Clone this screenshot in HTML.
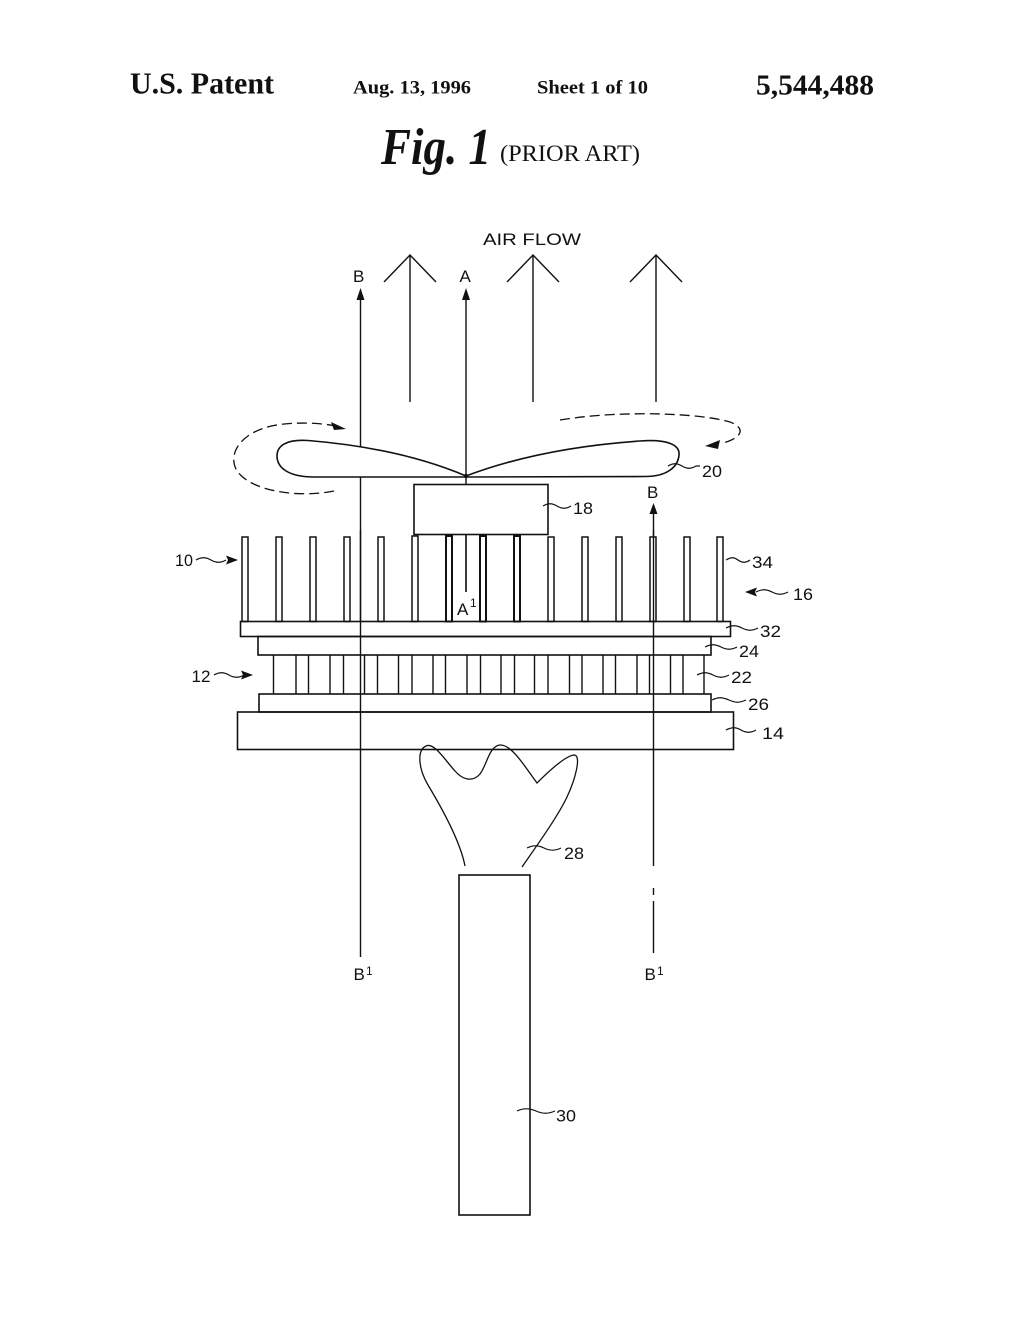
<!DOCTYPE html>
<html>
<head>
<meta charset="utf-8">
<style>
  html, body { margin: 0; padding: 0; background: #fff; }
  svg { display: block; }
  .lbl { font-family: "Liberation Sans", "DejaVu Sans", sans-serif; font-size: 17px; fill: #111; }
  .sup { font-family: "Liberation Sans", "DejaVu Sans", sans-serif; font-size: 12px; fill: #111; }
  .hdr { font-family: "Liberation Serif", "DejaVu Serif", serif; font-weight: bold; fill: #111; }
</style>
</head>
<body>
<svg width="1020" height="1320" viewBox="0 0 1020 1320" xmlns="http://www.w3.org/2000/svg">
  <rect width="1020" height="1320" fill="#fff"/>

  <!-- Header -->
  <text class="hdr" x="130" y="93.5" font-size="31" textLength="144" lengthAdjust="spacingAndGlyphs">U.S. Patent</text>
  <text class="hdr" x="353" y="93.5" font-size="19" textLength="118" lengthAdjust="spacingAndGlyphs">Aug. 13, 1996</text>
  <text class="hdr" x="537" y="93.5" font-size="19" textLength="111" lengthAdjust="spacingAndGlyphs">Sheet 1 of 10</text>
  <text class="hdr" x="756" y="94.5" font-size="29" textLength="118" lengthAdjust="spacingAndGlyphs">5,544,488</text>

  <text x="381" y="164" font-family="Liberation Serif, DejaVu Serif, serif" font-style="italic" font-weight="bold" font-size="52" fill="#111" textLength="110" lengthAdjust="spacingAndGlyphs">Fig. 1</text>
  <text x="500" y="161" font-family="Liberation Serif, DejaVu Serif, serif" font-size="23" fill="#111" textLength="140" lengthAdjust="spacingAndGlyphs">(PRIOR ART)</text>

  <!-- AIR FLOW -->
  <text class="lbl" x="483" y="245" font-size="17" textLength="98" lengthAdjust="spacingAndGlyphs">AIR FLOW</text>

  <g stroke="#111" stroke-width="1.4" fill="none">
    <!-- air flow arrows -->
    <line x1="410" y1="255" x2="410" y2="402"/>
    <polyline points="384,282 410,255 436,282"/>
    <line x1="533" y1="255" x2="533" y2="402"/>
    <polyline points="507,282 533,255 559,282"/>
    <line x1="656" y1="255" x2="656" y2="402"/>
    <polyline points="630,282 656,255 682,282"/>

    <!-- section lines -->
    <line x1="360.5" y1="296" x2="360.5" y2="957"/>
    <line x1="466" y1="296" x2="466" y2="592"/>
    <line x1="653.5" y1="510" x2="653.5" y2="866"/>
    <line x1="653.5" y1="888" x2="653.5" y2="895"/>
    <line x1="653.5" y1="901" x2="653.5" y2="953"/>
  </g>

  <!-- section arrowheads -->
  <g fill="#111">
    <polygon points="360.5,288 356.5,300 364.5,300"/>
    <polygon points="466,288 462,300 470,300"/>
    <polygon points="653.5,503 649.5,514 657.5,514"/>
  </g>

  <!-- section labels -->
  <text class="lbl" x="353" y="282">B</text>
  <text class="lbl" x="459.5" y="282">A</text>
  <text class="lbl" x="647" y="498">B</text>
  <text class="lbl" x="457" y="615">A</text>
  <text class="sup" x="470" y="607">1</text>
  <text class="lbl" x="353.5" y="980">B</text>
  <text class="sup" x="366" y="975">1</text>
  <text class="lbl" x="644.5" y="980">B</text>
  <text class="sup" x="657" y="975">1</text>

  <!-- Fan -->
  <g stroke="#111" stroke-width="1.6" fill="#fff">
    <path d="M466,476 Q400,448 308,440.5 C286,439 277,446 277,456 C277,468 289,477 314,477 L466,477 Z"/>
    <path d="M466,476 Q540,448 640,441 C668,439 680,445 679,455 C678,467 667,476.5 645,476.5 L466,477 Z"/>
  </g>
  <circle cx="466" cy="476" r="2.2" fill="#111"/>

  <!-- dashed rotation arrows -->
  <g stroke="#111" stroke-width="1.3" fill="none" stroke-dasharray="10,5">
    <path d="M334,491 C300,498 252,492 237,471 C226,452 244,429 280,424.5 C300,422 320,423 336,426"/>
    <path d="M560,420 C620,410 700,413 730,422 C746,428 743,438 721,443.5"/>
  </g>
  <g fill="#111">
    <polygon points="346,429 331,422 334,430"/>
    <polygon points="705,446 720,440 718,449"/>
  </g>

  <!-- Motor 18 -->
  <rect x="414" y="484.5" width="134" height="50" fill="#fff" stroke="#111" stroke-width="1.6"/>

  <!-- Fins -->
  <g stroke="#111" stroke-width="1.5" fill="#fff">
    <rect x="242" y="537" width="6" height="84.5"/>
    <rect x="276" y="537" width="6" height="84.5"/>
    <rect x="310" y="537" width="6" height="84.5"/>
    <rect x="344" y="537" width="6" height="84.5"/>
    <rect x="378" y="537" width="6" height="84.5"/>
    <rect x="412" y="536" width="6" height="85.5"/>
    <rect x="446" y="536" width="6" height="85.5" stroke-width="2"/>
    <rect x="480" y="536" width="6" height="85.5" stroke-width="2"/>
    <rect x="514" y="536" width="6" height="85.5" stroke-width="2"/>
    <rect x="548" y="537" width="6" height="84.5"/>
    <rect x="582" y="537" width="6" height="84.5"/>
    <rect x="616" y="537" width="6" height="84.5"/>
    <rect x="650" y="537" width="6" height="84.5"/>
    <rect x="684" y="537" width="6" height="84.5"/>
    <rect x="717" y="537" width="6" height="84.5"/>
  </g>
  <!-- redraw section lines over fins -->
  <g stroke="#111" stroke-width="1.4">
    <line x1="360.5" y1="530" x2="360.5" y2="622"/>
    <line x1="466" y1="534" x2="466" y2="592"/>
    <line x1="653.5" y1="530" x2="653.5" y2="622"/>
  </g>

  <!-- Plates / layers -->
  <g stroke="#111" stroke-width="1.6" fill="none">
    <rect x="240.5" y="621.5" width="490" height="15"/>
    <rect x="258" y="636.5" width="453" height="18.5"/>
    <rect x="259" y="694" width="452" height="18"/>
    <rect x="237.5" y="712" width="496" height="37.5"/>
  </g>
  <!-- thermoelectric elements -->
  <g stroke="#111" stroke-width="1.4">
    <line x1="273.5" y1="655" x2="273.5" y2="694"/>
    <line x1="296" y1="655" x2="296" y2="694"/>
    <line x1="308.5" y1="655" x2="308.5" y2="694"/>
    <line x1="330" y1="655" x2="330" y2="694"/>
    <line x1="343.5" y1="655" x2="343.5" y2="694"/>
    <line x1="364.5" y1="655" x2="364.5" y2="694"/>
    <line x1="377.5" y1="655" x2="377.5" y2="694"/>
    <line x1="398.5" y1="655" x2="398.5" y2="694"/>
    <line x1="412" y1="655" x2="412" y2="694"/>
    <line x1="433" y1="655" x2="433" y2="694"/>
    <line x1="445.5" y1="655" x2="445.5" y2="694"/>
    <line x1="467" y1="655" x2="467" y2="694"/>
    <line x1="480.5" y1="655" x2="480.5" y2="694"/>
    <line x1="501" y1="655" x2="501" y2="694"/>
    <line x1="514.5" y1="655" x2="514.5" y2="694"/>
    <line x1="534.5" y1="655" x2="534.5" y2="694"/>
    <line x1="548" y1="655" x2="548" y2="694"/>
    <line x1="569.5" y1="655" x2="569.5" y2="694"/>
    <line x1="582" y1="655" x2="582" y2="694"/>
    <line x1="603" y1="655" x2="603" y2="694"/>
    <line x1="615.5" y1="655" x2="615.5" y2="694"/>
    <line x1="637" y1="655" x2="637" y2="694"/>
    <line x1="649.5" y1="655" x2="649.5" y2="694"/>
    <line x1="670.5" y1="655" x2="670.5" y2="694"/>
    <line x1="683" y1="655" x2="683" y2="694"/>
    <line x1="704" y1="655" x2="704" y2="694"/>
  </g>

  <!-- Plug 28 -->
  <path d="M465,866 C460,840 440,805 428,785 C418,768 417,750 426,746 C434,742 445,760 455,771 C462,779 472,783 480,774 C487,765 489,746 500,745 C512,744 527,770 537,783 C548,772 565,756 574,755 C582,755 575,780 567,797 C557,818 535,848 522,867" fill="none" stroke="#111" stroke-width="1.3"/>

  <!-- Column 30 -->
  <rect x="459" y="875" width="71" height="340" fill="none" stroke="#111" stroke-width="1.6"/>

  <!-- Leaders -->
  <g stroke="#111" stroke-width="1.2" fill="none">
    <path d="M668,466 c5,-3 9,-3 14,0 s9,3 14,0 l4,0"/>
    <path d="M543,506 c5,-3 9,-3 14,0 s9,3 14,0"/>
    <path d="M726,560 c5,-3 8,-3 12,0 s8,3 12,0"/>
    <path d="M726,628 c6,-3 10,-3 16,0 s10,3 16,0"/>
    <path d="M705,647 c6,-3 10,-3 16,0 s10,3 16,0"/>
    <path d="M697,675 c6,-3 10,-3 16,0 s10,3 16,0"/>
    <path d="M712,700 c6,-3 10,-3 17,0 s10,3 17,0"/>
    <path d="M726,730 c6,-3 10,-3 15,0 s10,3 15,0"/>
    <path d="M527,848 c6,-3 11,-3 17,0 s11,3 17,0"/>
    <path d="M517,1111 c6,-3 12,-3 19,0 s12,3 19,0"/>
    <!-- 16 -->
    <path d="M756,592 c6,-3 10,-3 16,0 s10,3 16,0"/>
    <!-- 10 -->
    <path d="M196,560 c5,-3 10,-3 15,0 s10,3 15,0"/>
    <!-- 12 -->
    <path d="M214,675 c5,-3 10,-3 15,0 s10,3 15,0"/>
  </g>
  <g fill="#111">
    <polygon points="238,560 226,555.5 228,560 226,564.5"/>
    <polygon points="253,675 241,670.5 243,675 241,679.5"/>
    <polygon points="745,592 757,587.5 755,592 757,596.5"/>
  </g>

  <!-- Reference numerals -->
  <text class="lbl" x="702" y="477" textLength="20" lengthAdjust="spacingAndGlyphs">20</text>
  <text class="lbl" x="573" y="514" textLength="20" lengthAdjust="spacingAndGlyphs">18</text>
  <text class="lbl" x="752" y="568" textLength="21" lengthAdjust="spacingAndGlyphs">34</text>
  <text class="lbl" x="793" y="600" textLength="20" lengthAdjust="spacingAndGlyphs">16</text>
  <text class="lbl" x="760" y="637" textLength="21" lengthAdjust="spacingAndGlyphs">32</text>
  <text class="lbl" x="739" y="657" textLength="20" lengthAdjust="spacingAndGlyphs">24</text>
  <text class="lbl" x="731" y="683" textLength="21" lengthAdjust="spacingAndGlyphs">22</text>
  <text class="lbl" x="748" y="710" textLength="21" lengthAdjust="spacingAndGlyphs">26</text>
  <text class="lbl" x="762" y="739" textLength="22" lengthAdjust="spacingAndGlyphs">14</text>
  <text class="lbl" x="175" y="566" textLength="18" lengthAdjust="spacingAndGlyphs">10</text>
  <text class="lbl" x="191.5" y="682" textLength="19" lengthAdjust="spacingAndGlyphs">12</text>
  <text class="lbl" x="564" y="859" textLength="20" lengthAdjust="spacingAndGlyphs">28</text>
  <text class="lbl" x="556" y="1121.5" textLength="20" lengthAdjust="spacingAndGlyphs">30</text>
</svg>
</body>
</html>
